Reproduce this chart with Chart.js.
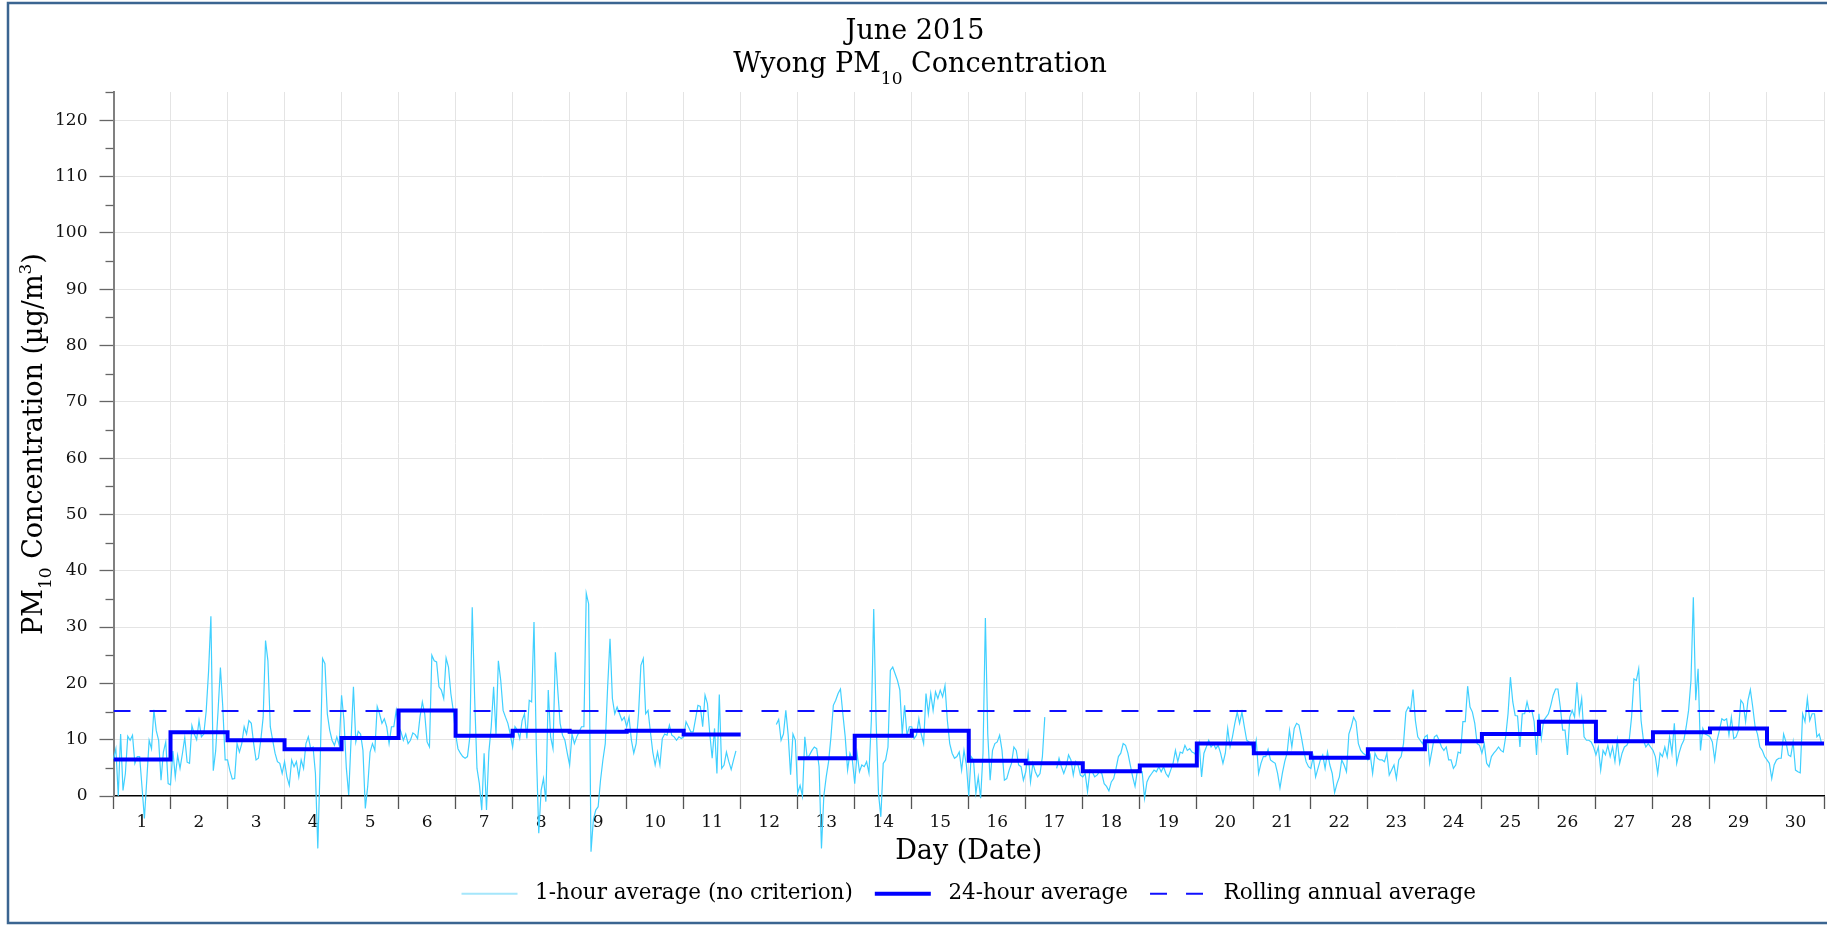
<!DOCTYPE html>
<html>
<head>
<meta charset="utf-8">
<script src="https://cdn.jsdelivr.net/npm/chart.js@4"></script>
<style>
  html, body { margin: 0; padding: 0; background: #fff; }
  canvas { display: block; }
</style>
</head>
<body>
<canvas id="pmChart" width="1827" height="925"></canvas>
<script>
// days of June 2015
var days = [1,2,3,4,5,6,7,8,9,10,11,12,13,14,15,16,17,18,19,20,21,22,23,24,25,26,27,28,29,30];

// 1-hour averages, one row of 24 hours per day (null = no data)
var hourly = [
  [6.6, 8.4, 0, 11, 1, 4, 10.6, 9.9, 10.8, 5.8, 7, 7, 1.6, -4, 2.8, 9.9, 8.4, 15.3, 11.6, 9.9, 2.8, 7.8, 9.6, 2.2],
  [2.0, 8.0, 3.4, 7.2, 4.9, 7.5, 10.4, 6.0, 5.8, 12.5, 11.0, 10.0, 13.4, 10.5, 11.0, 15.0, 22.0, 31.9, 4.5, 8.0, 15.0, 22.8, 15.8, 6.4],
  [6.4, 4.5, 3.0, 3.1, 9.3, 7.8, 9.3, 12.3, 11.0, 13.4, 12.9, 9.3, 6.4, 6.7, 9.9, 14.0, 27.6, 24.0, 12.3, 9.9, 7.6, 6.1, 5.8, 4.0],
  [6.1, 3.4, 1.9, 6.4, 5.2, 6.1, 3.4, 6.4, 4.9, 9.3, 10.5, 8.4, 8.7, 4.0, -9.3, 5.8, 24.4, 23.5, 14.6, 11.7, 9.9, 9.0, 10.5, 9.0],
  [17.9, 13.5, 5.0, 0.2, 10.0, 19.4, 9.6, 11.5, 11.0, 8.1, -2.2, 1.7, 7.8, 9.3, 8.1, 15.9, 14.6, 12.9, 13.7, 12.3, 9.3, 12.3, 12.3, 15.2],
  [12.3, 11.4, 9.9, 11, 9.3, 9.9, 11.2, 10.9, 10.2, 14, 16.7, 14.6, 9.6, 8.7, 25, 24, 23.8, 19.4, 18.8, 17.3, 24.5, 22.9, 18.2, 15.2],
  [11, 8.4, 7.6, 7.0, 6.7, 7.0, 10.5, 33.5, 17.6, 4.9, 2.2, -2.5, 7.6, -2.5, 7.8, 12.3, 19.4, 11, 24, 20.5, 15.2, 14, 12.9, 11],
  [8.7, 12.3, 11.7, 10.2, 13.4, 14.6, 10.2, 17.0, 16.7, 30.9, 8.0, -6.6, 1.0, 3.1, -1.0, 18.8, 10.5, 8.4, 25.5, 18.8, 12.9, 10.8, 9.9, 7.6],
  [5.5, 11, 9.3, 10.5, 11.4, 12.3, 12.3, 36, 34.1, -9.9, -4.2, -2.5, -1.9, 2.8, 6.4, 9.3, 19.4, 27.9, 17.3, 14.6, 15.8, 14.6, 13.4, 14],
  [12.3, 14, 9.9, 7.6, 9.3, 14.6, 23.2, 24.4, 14.6, 15.2, 11.4, 7.8, 5.5, 7.8, 5.5, 10.2, 11, 10.8, 12.6, 10.8, 10.5, 9.9, 10.5, 10.2],
  [10.5, 13.2, 12.3, 11.4, 11.4, 13.7, 16.1, 15.9, 12.3, 17.9, 16.4, 11, 6.7, 12, 4, 18, 4.9, 5.5, 7.8, 6.1, 4.7, 6.4, 8, null],
  [null, null, null, null, null, null, null, null, null, null, null, null, null, null, null, 12.7, 13.6, 9.9, 11, 15.2, 10.8, 3.8, 11, 9.9],
  [0.5, 1.9, 0, 10.5, 6.7, 7.3, 8.1, 8.7, 8.4, 5.2, -9.3, 0, 3.4, 6.1, 10.5, 16.1, 17, 18.2, 19, 14.6, 10.5, 4.6, 7.6, 6.4],
  [2.2, 7.6, 4.3, 5.5, 5.2, 6.1, 4.1, 13.4, 33.2, 13.4, 0.5, -3.7, 5.8, 6.4, 8.7, 22.3, 22.9, 21.7, 20.5, 18.8, 11, 16.1, 10.8, 12.3],
  [12.3, 10.2, 10.8, 13.7, 11, 9.3, 18.2, 14.6, 18.2, 15.2, 18.5, 17.3, 18.8, 17.6, 19.6, 13.4, 9.3, 7.6, 6.7, 7, 7.8, 4.6, 8.1, 5.5],
  [0, 7, 6.4, 0.5, 3.4, -0.4, 7.6, 31.6, 11, 2.8, 8.1, 9.3, 9.6, 10.8, 8.1, 2.8, 3.1, 4.6, 5.8, 8.7, 8.1, 5.5, 5.2, 2.8],
  [4.3, 7.6, 2.5, 5.8, 4.3, 3.4, 4, 7, 14, null, null, null, null, 4.9, 6.7, 5.2, 4, 5.2, 7.3, 6.4, 3.7, 6.1, 5.5, 3.7],
  [3.4, 4, 0.8, 4.6, 4.3, 3.4, 3.7, 4.3, 4, 2.2, 1.7, 0.9, 2.5, 3.1, 4.9, 7, 7.6, 9.3, 9, 7.6, 5.5, 3.4, 1.7, 4.6],
  [4.3, 4.3, -0.4, 2.5, 3.4, 4, 4.6, 4.3, 5.2, 4.3, 5.2, 4, 3.4, 4.6, 5.8, 8.1, 6.1, 7.8, 7.6, 9, 8.1, 8.4, 7.8, 7.6],
  [7, 9.3, 3.4, 7.6, 8.7, 9.9, 8.7, 9.3, 8.4, 9, 7.6, 5.8, 7.6, 12, 8.7, 10.5, 12.9, 14.9, 12.9, 14.9, 12.3, 9.9, 9.6, 9],
  [7.6, 9.9, 4, 5.8, 7, 7, 8.3, 6.4, 6.1, 5.8, 4, 1.4, 4, 6.1, 7.6, 11.7, 8.7, 12, 12.9, 12.6, 10.5, 8.1, 6.1, 5.2],
  [4.9, 7, 3.4, 4.9, 6.4, 7.3, 4.9, 7.8, 5.5, 4, 0.6, 2.2, 3.4, 6.4, 5.5, 4.3, 11, 12.3, 14, 13.2, 9.3, 8.1, 7.6, 7.3],
  [6.4, 7.3, 4, 7.6, 6.7, 6.4, 6.4, 6.1, 7.6, 3.7, 4.6, 5.5, 3.1, 6.4, 7, 9.3, 14.9, 15.8, 15.2, 18.9, 13.4, 10.5, 9.9, 9.3],
  [10.5, 10.8, 5.8, 8.1, 10.5, 10.8, 9.9, 8.7, 8.1, 8.7, 6.4, 6.4, 4.9, 5.5, 7.8, 7.6, 13.2, 13.2, 19.5, 15.8, 14.9, 12.9, 9.3, 9],
  [7.6, 9.3, 5.8, 5.2, 7, 7.6, 8.1, 8.7, 8.1, 7.8, 10.5, 14.6, 21.1, 16.7, 14.3, 14.2, 8.7, 14.6, 14.6, 16.7, 14.9, 15.2, 13.2, 7.3],
  [14.6, 10.2, 13.4, 14, 14.6, 16.1, 17.9, 19, 19, 15.8, 11.7, 11.7, 7.3, 14, 15.2, 14, 20.2, 14.6, 17.3, 10.5, 9.9, 9.9, 9.6, 8.7],
  [7.3, 8.7, 4.6, 8.1, 7.3, 9, 7, 8.7, 6.1, 9.9, 5.8, 7.6, 8.7, 9, 9.9, 14, 20.8, 20.5, 22.6, 13.4, 9.9, 8.7, 9.3, 8.7],
  [8.1, 7, 4, 7.6, 7, 8.7, 7, 10.5, 7.6, 12.9, 5.8, 7.6, 9, 9.9, 12.3, 15.2, 20.5, 35.3, 17, 22.6, 8.1, 12, 11, 10.8],
  [10.5, 9.6, 6.4, 9.9, 11.7, 13.7, 13.4, 13.7, 10.8, 14, 10.2, 10.5, 11.7, 17, 16.4, 13.2, 17, 18.9, 15.8, 12.3, 11, 8.7, 8.1, 7],
  [6.4, 5.8, 3.1, 5.5, 6.4, 6.7, 6.7, 11, 9.6, 7.3, 7, 9.6, 4.6, 4.3, 4.1, 14.6, 13.2, 17.3, 13.4, 14.6, 14.6, 10.5, 11, 9.3]
];

// 24-hour averages (null = not enough data)
var dayAverage = [6.5, 11.3, 9.9, 8.3, 10.3, 15.2, 10.7, 11.6, 11.4, 11.6, 10.9, null, 6.7, 10.7, 11.6,
                  6.25, 5.8, 4.4, 5.4, 9.3, 7.6, 6.8, 8.3, 9.7, 11.0, 13.2, 9.7, 11.3, 12.0, 9.3];

var rollingAnnual = 15.1;

var yTicks = [0, 10, 20, 30, 40, 50, 60, 70, 80, 90, 100, 110, 120];
var yMinorTicks = [5, 15, 25, 35, 45, 55, 65, 75, 85, 95, 105, 115, 125];

var seriesNames = ["1-hour average (no criterion)", "24-hour average", "Rolling annual average"];

var serif = '"DejaVu Serif", serif';

// build x/y points: x is days since start of month
var hourlyPoints = [];
hourly.forEach(function (row, d) {
  row.forEach(function (v, h) {
    hourlyPoints.push({ x: d + h / 24, y: v });
  });
});

var dayPoints = [];
dayAverage.forEach(function (v, d) {
  dayPoints.push({ x: d, y: v });
  dayPoints.push({ x: d + 1, y: v });
});

var rollingPoints = [{ x: 0, y: rollingAnnual }, { x: days.length, y: rollingAnnual }];

// text with sub/superscripts drawn on the canvas
function richWidth(ctx, parts) {
  var w = 0;
  parts.forEach(function (p) {
    ctx.font = (p.sub || p.sup ? 17 : 27) + 'px ' + serif;
    w += ctx.measureText(p.t).width;
  });
  return w;
}
function drawRich(ctx, parts, cx, y, subDrop) {
  var x = cx - richWidth(ctx, parts) / 2;
  ctx.textAlign = 'left';
  ctx.textBaseline = 'alphabetic';
  parts.forEach(function (p) {
    var dy = 0;
    if (p.sub) dy = subDrop;
    if (p.sup) dy = -11;
    ctx.font = (p.sub || p.sup ? 17 : 27) + 'px ' + serif;
    ctx.fillText(p.t, x, y + dy);
    x += ctx.measureText(p.t).width;
  });
}

var decorPlugin = {
  id: 'decor',
  afterDraw: function (chart) {
    var ctx = chart.ctx;
    var area = chart.chartArea;
    var ys = chart.scales.y;
    ctx.save();

    // minor y ticks
    ctx.strokeStyle = '#666';
    ctx.lineWidth = 1.3;
    yMinorTicks.forEach(function (v) {
      var py = Math.round(ys.getPixelForValue(v)) + 0.5;
      ctx.beginPath();
      ctx.moveTo(area.left - 8, py);
      ctx.lineTo(area.left, py);
      ctx.stroke();
    });

    // titles
    ctx.fillStyle = '#000';
    drawRich(ctx, [{ t: 'June 2015' }], 915, 38.5, 0);
    drawRich(ctx, [{ t: 'Wyong PM' }, { t: '10', sub: true }, { t: ' Concentration' }], 920, 71.5, 12);

    // y axis title
    ctx.save();
    ctx.translate(42, (area.top + area.bottom) / 2);
    ctx.rotate(-Math.PI / 2);
    drawRich(ctx, [{ t: 'PM' }, { t: '10', sub: true }, { t: ' Concentration (\u00b5g/m' }, { t: '3', sup: true }, { t: ')' }], 0, 0, 9);
    ctx.restore();

    // frame
    ctx.strokeStyle = '#3b6591';
    ctx.lineWidth = 2.5;
    ctx.strokeRect(8, 3, 1840, 920);
    ctx.restore();
  }
};

var legendStyle = [
  { strokeStyle: '#a5e6fb', lineWidth: 2, lineDash: [] },
  { strokeStyle: '#0000ff', lineWidth: 4, lineDash: [] },
  { strokeStyle: '#1010ff', lineWidth: 2, lineDash: [17, 19] }
];

var chart = new Chart(document.getElementById('pmChart'), {
  type: 'line',
  data: {
    datasets: [{
      label: seriesNames[0],
      data: hourlyPoints,
      borderColor: 'rgb(64, 208, 255)',
      backgroundColor: 'rgb(64, 208, 255)',
      borderWidth: 1.2,
      pointRadius: 0,
      spanGaps: false,
      clip: false,
      order: 3
    }, {
      label: seriesNames[1],
      data: dayPoints,
      borderColor: '#0000ff',
      backgroundColor: '#0000ff',
      borderWidth: 4,
      pointRadius: 0,
      spanGaps: false,
      order: 1
    }, {
      label: seriesNames[2],
      data: rollingPoints,
      borderColor: '#1010ff',
      backgroundColor: '#1010ff',
      borderWidth: 2,
      borderDash: [17, 19],
      pointRadius: 0,
      order: 2
    }]
  },
  options: {
    responsive: false,
    animation: false,
    devicePixelRatio: 1,
    events: [],
    layout: { padding: { top: 92, left: 0, right: 2, bottom: 10.5 } },
    scales: {
      x: {
        type: 'linear',
        min: 0,
        max: days.length,
        afterFit: function (s) { s.height = 65; },
        ticks: {
          stepSize: 1,
          autoSkip: false,
          maxRotation: 0,
          labelOffset: 28.5,
          padding: 3,
          color: '#111',
          font: { family: serif, size: 17 },
          callback: function (v) { return v < days.length ? String(days[v]) : ''; }
        },
        grid: { color: '#e4e4e4', lineWidth: 1, tickLength: 13, tickColor: '#555', tickWidth: 1.3 },
        border: { color: '#000', width: 1.5 },
        title: {
          display: true,
          text: 'Day (Date)',
          color: '#000',
          font: { family: serif, size: 27, lineHeight: 1 },
          padding: { top: 0, bottom: -4.5 }
        }
      },
      y: {
        type: 'linear',
        min: 0,
        max: 125,
        afterFit: function (s) { s.width = 113.5; },
        afterBuildTicks: function (s) { s.ticks = yTicks.map(function (v) { return { value: v }; }); },
        ticks: {
          padding: 12,
          color: '#111',
          font: { family: serif, size: 17 },
          callback: function (v) { return String(v); }
        },
        grid: {
          color: function (c) { return (c.tick && c.tick.value === 0) ? 'rgba(0,0,0,0)' : '#e4e4e4'; },
          lineWidth: 1,
          tickLength: 14,
          tickColor: '#666',
          tickWidth: 1.3
        },
        border: { color: '#808080', width: 2 }
      }
    },
    plugins: {
      title: { display: false },
      tooltip: { enabled: false },
      legend: {
        display: true,
        position: 'bottom',
        fullSize: false,
        labels: {
          usePointStyle: true,
          pointStyleWidth: 56,
          boxWidth: 56,
          boxHeight: 21.5,
          padding: 22,
          color: '#000',
          font: { family: serif, size: 21.5 },
          sort: function (a, b) { return a.datasetIndex - b.datasetIndex; },
          generateLabels: function (ch) {
            var items = Chart.defaults.plugins.legend.labels.generateLabels(ch);
            items.forEach(function (it) {
              var st = legendStyle[it.datasetIndex];
              it.text = ' ' + it.text;
              it.pointStyle = 'line';
              it.fillStyle = 'rgba(0,0,0,0)';
              it.strokeStyle = st.strokeStyle;
              it.lineWidth = st.lineWidth;
              it.lineDash = st.lineDash;
              it.lineCap = 'butt';
              it.rotation = 0;
            });
            return items;
          }
        }
      }
    }
  },
  plugins: [decorPlugin]
});
</script>
</body>
</html>
